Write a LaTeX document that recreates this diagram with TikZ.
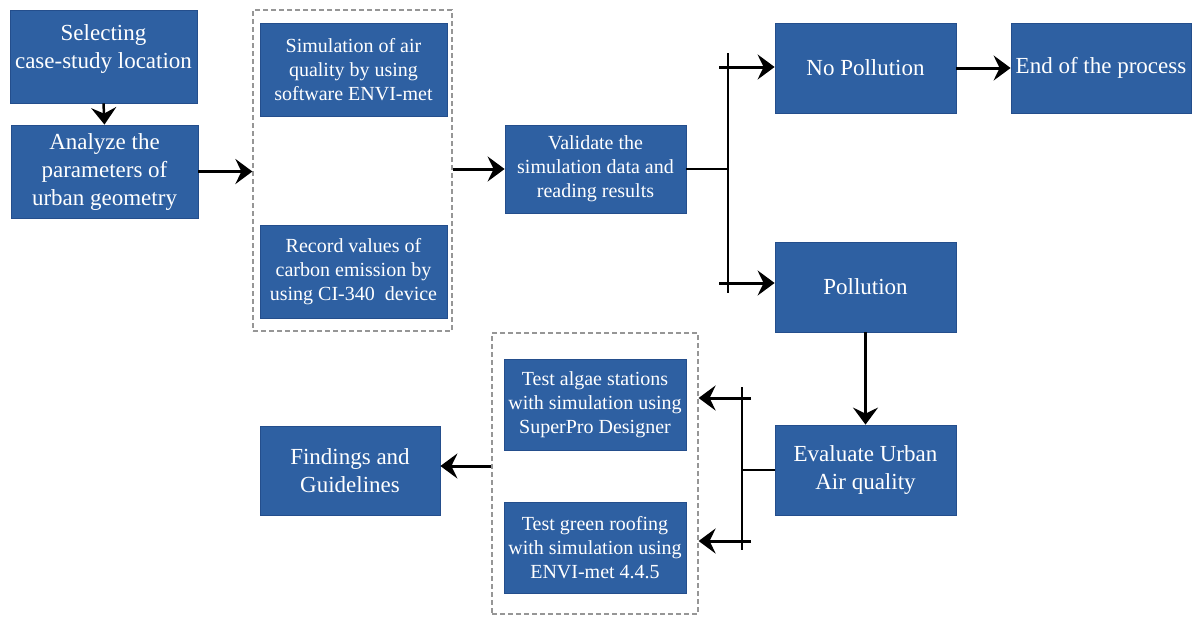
\documentclass[tikz,border=0pt]{standalone}
\usepackage{fontspec}
\setmainfont{Liberation Serif}
\usetikzlibrary{arrows.meta}
\definecolor{boxblue}{RGB}{46,96,162}
\definecolor{boxedge}{RGB}{36,78,140}
\definecolor{dashgray}{RGB}{150,150,150}
\begin{document}
\begin{tikzpicture}[x=1pt,y=-1pt,
  blk/.style={draw=boxedge,line width=0.8pt,fill=boxblue,text=white,align=center,inner sep=0pt},
  big/.style={font=\fontsize{23}{28}\selectfont},
  small/.style={font=\fontsize{20}{24}\selectfont},
  grp/.style={draw=dashgray,line width=1.2pt,dash pattern=on 5pt off 3pt,inner sep=0pt},
  arr/.style={line width=3pt,-{Stealth[length=17pt,width=25pt,inset=6pt]}},
  branch/.style={line width=2pt}]
\useasboundingbox (0,0) rectangle (1200,624);
% boxes
\node[blk,big,minimum width=187,minimum height=93] (sel) at (103.5,56.5) {};
\node[text=white,align=center,big,inner sep=0pt] (seltxt) at ([yshift=7pt]sel.center) {Selecting\\case-study location};
\node[blk,big,minimum width=187,minimum height=93] (ana) at (104.5,171.5) {Analyze the\\parameters of\\urban geometry};
\node[grp,minimum width=199,minimum height=321] (g1) at (352.5,170.5) {};
\node[blk,small,minimum width=187,minimum height=93] (sim) at (353.5,69.5) {Simulation of air\\quality by using\\software ENVI-met};
\node[blk,small,minimum width=187,minimum height=93] (rec) at (353.5,271.5) {Record values of\\carbon emission by\\using CI-340\ \ device};
\node[blk,small,minimum width=181,minimum height=88] (val) at (595.5,169) {Validate the\\simulation data and\\reading results};
\node[blk,big,minimum width=181,minimum height=90] (nop) at (865.5,68) {No Pollution};
\node[blk,big,minimum width=180,minimum height=90] (end) at (1101,68) {End of the process};
\node[blk,big,minimum width=181,minimum height=90] (pol) at (865.5,287) {Pollution};
\node[blk,big,minimum width=181,minimum height=90] (eva) at (865.5,470) {Evaluate Urban\\Air quality};
\node[grp,minimum width=206,minimum height=281] (g2) at (595,473.5) {};
\node[blk,small,minimum width=182,minimum height=91] (alg) at (595,404.5) {Test algae stations\\with simulation using\\SuperPro Designer};
\node[blk,small,minimum width=182,minimum height=91] (grn) at (595,547.5) {Test green roofing\\with simulation using\\ENVI-met 4.4.5};
\node[blk,big,minimum width=180,minimum height=89] (fin) at (350,470.5) {Findings and\\Guidelines};
% junction coordinates
\coordinate (j1) at (728,169);
\coordinate (j1t) at (728,53);
\coordinate (j1b) at (728,293);
\coordinate (s1) at (719,67);
\coordinate (s2) at (719,283);
\coordinate (j2) at (742,470);
\coordinate (j2t) at (742,387);
\coordinate (j2b) at (742,550);
\coordinate (s3) at (751,398);
\coordinate (s4) at (751,541);
\coordinate (f1) at (0,466);
% connectors
\draw[arr,line width=2.5pt] (sel.south) -- (ana.north);
\draw[arr] (ana.east) -- (ana.east -| g1.west);
\draw[arr] (g1.east |- val.west) -- (val.west);
\draw[branch] (val.east) -- (j1);
\draw[branch] (j1t) -- (j1b);
\draw[arr] (s1) -- (s1 -| nop.west);
\draw[arr] (s2) -- (s2 -| pol.west);
\draw[arr] (nop.east) -- (end.west);
\draw[arr] (pol.south) -- (eva.north);
\draw[branch] (eva.west) -- (j2);
\draw[branch] (j2t) -- (j2b);
\draw[arr] (s3) -- (s3 -| g2.east);
\draw[arr] (s4) -- (s4 -| g2.east);
\draw[arr] (g2.west |- f1) -- (fin.east |- f1);
\end{tikzpicture}
\end{document}
